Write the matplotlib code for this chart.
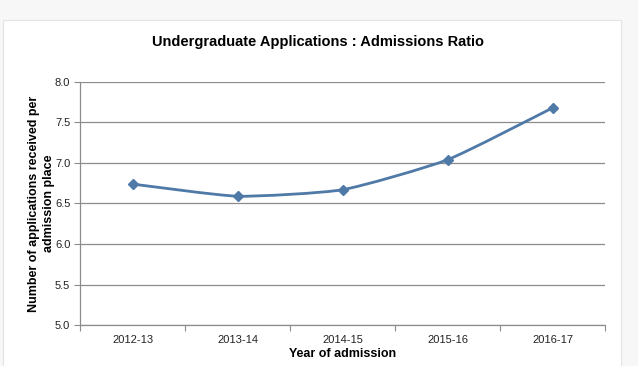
import numpy as np
import matplotlib.pyplot as plt
from matplotlib.path import Path
from matplotlib.patches import PathPatch, Rectangle

plt.rcParams['font.family'] = ['Liberation Sans', 'DejaVu Sans']

years = ['2012-13', '2013-14', '2014-15', '2015-16', '2016-17']
ratio = [6.74, 6.59, 6.67, 7.04, 7.68]
yticks = [5.0, 5.5, 6.0, 6.5, 7.0, 7.5, 8.0]

line_col = '#4f79a7'
grid_col = '#8c8c8c'

fig = plt.figure(figsize=(6.38, 3.66), dpi=100)
fig.patch.set_facecolor('#f7f7f7')
# chart area panel
fig.patches.append(Rectangle((0.005, 0.0), 0.968, 0.945, transform=fig.transFigure,
                             facecolor='white', edgecolor='#e4e4e4', lw=0.8, zorder=-1))

ax = fig.add_axes([0.1254, 0.112, 0.8229, 0.664])
ax.set_facecolor('white')

x = np.arange(len(years))
y = np.array(ratio)

# lightly smoothed line through the points
t = 0.09
verts = [(x[0], y[0])]
codes = [Path.MOVETO]
n = len(x)
for i in range(n - 1):
    p0 = np.array([x[max(i - 1, 0)], y[max(i - 1, 0)]])
    p1 = np.array([x[i], y[i]])
    p2 = np.array([x[i + 1], y[i + 1]])
    p3 = np.array([x[min(i + 2, n - 1)], y[min(i + 2, n - 1)]])
    c1 = p1 + (p2 - p0) * t
    c2 = p2 - (p3 - p1) * t
    verts += [tuple(c1), tuple(c2), tuple(p2)]
    codes += [Path.CURVE4] * 3
ax.add_patch(PathPatch(Path(verts, codes), facecolor='none', edgecolor=line_col,
                       lw=2.0, zorder=3))
ax.plot(x, y, linestyle='none', marker='D', ms=5, color=line_col, zorder=4)

ax.set_xlim(-0.5, len(years) - 0.5)
ax.set_ylim(5.0, 8.0)
ax.set_yticks(yticks)
ax.set_yticklabels([f'{v:.1f}' for v in yticks], fontsize=8, color='#222222')
ax.yaxis.grid(True, color=grid_col, lw=0.9)
ax.set_axisbelow(True)

ax.set_xticks(np.arange(-0.5, len(years), 1.0))
ax.set_xticklabels([])
ax.set_xticks(x, minor=True)
ax.set_xticklabels(years, minor=True, fontsize=8, color='#222222')
ax.tick_params(axis='x', which='major', length=4, color=grid_col, direction='out')
ax.tick_params(axis='x', which='minor', length=0, pad=7)
ax.tick_params(axis='y', length=4, color=grid_col, direction='out', pad=3)

for s in ['top', 'right']:
    ax.spines[s].set_visible(False)
for s in ['left', 'bottom']:
    ax.spines[s].set_color(grid_col)
    ax.spines[s].set_linewidth(0.9)

ax.set_xlabel('Year of admission', fontsize=9, fontweight='bold', labelpad=2)
ax.set_ylabel('Number of applications received per\nadmission place', fontsize=9,
              fontweight='bold', linespacing=1.35, ha='center', va='center')
ax.yaxis.set_label_coords(-0.073, 0.5)
fig.text(0.498, 0.885, 'Undergraduate Applications : Admissions Ratio', ha='center',
         va='center', fontsize=10.5, fontweight='bold')

fig.savefig('out.png', dpi=100, facecolor=fig.get_facecolor())
